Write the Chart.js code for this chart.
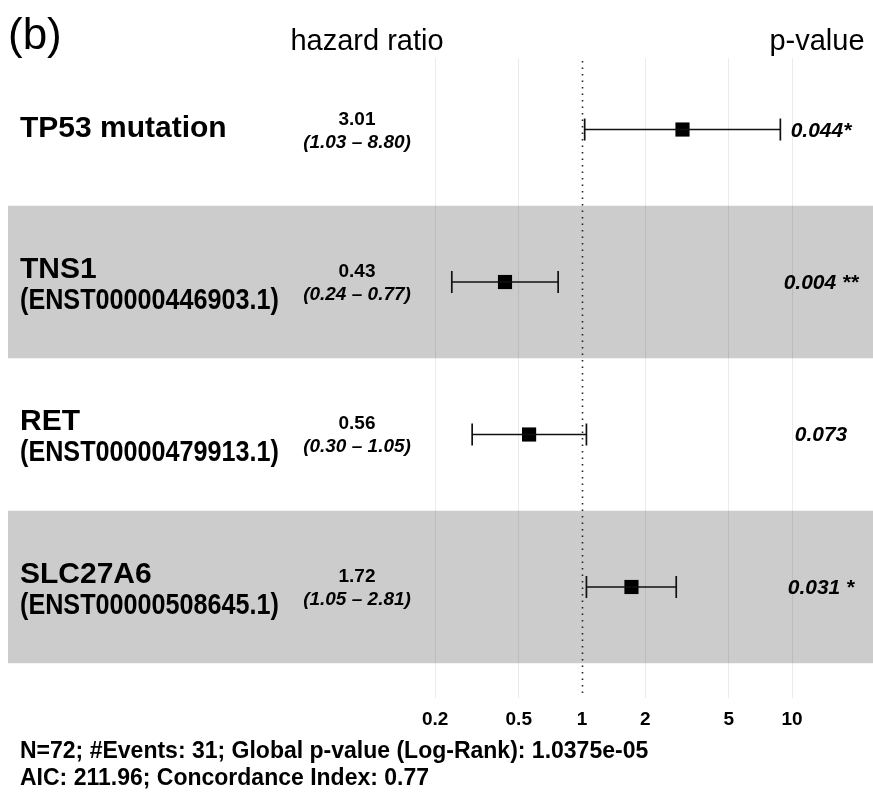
<!DOCTYPE html>
<html>
<head>
<meta charset="utf-8">
<script src="https://cdn.jsdelivr.net/npm/chart.js@4"></script>
<style>
  html, body { margin: 0; padding: 0; background: #fff; }
  #wrap { width: 873px; height: 795px; }
</style>
</head>
<body>
<div id="wrap"><canvas id="forestChart" width="873" height="795"></canvas></div>
<script>
// Cox model results, one entry per row (top to bottom)
const variables = ["TP53 mutation", "TNS1", "RET", "SLC27A6"];
const transcripts = ["", "(ENST00000446903.1)", "(ENST00000479913.1)", "(ENST00000508645.1)"];
const hazardRatios = [3.01, 0.43, 0.56, 1.72];
const ciLower = [1.03, 0.24, 0.30, 1.05];
const ciUpper = [8.80, 0.77, 1.05, 2.81];
const pValues = ["0.044*", "0.004 **", "0.073", "0.031 *"];
const tickValues = [0.2, 0.5, 1, 2, 5, 10];
const footerLines = [
  "N=72; #Events: 31; Global p-value (Log-Rank): 1.0375e-05",
  "AIC: 211.96; Concordance Index: 0.77",
];

const FONT = '"Liberation Sans", Arial, Helvetica, sans-serif';
const canvas = document.getElementById("forestChart");

// error bars: one line dataset per row, caps drawn as rotated "line" points
const errorBarSets = variables.map((name, i) => ({
  type: "line",
  label: name + " CI",
  data: [
    { x: ciLower[i], y: i + 1 },
    { x: ciUpper[i], y: i + 1 },
  ],
  showLine: true,
  borderColor: "#111",
  borderWidth: 1.4,
  pointStyle: "line",
  rotation: 90,
  pointRadius: 11,
  pointBorderWidth: 1.7,
  pointBorderColor: "#111",
  pointHoverRadius: 11,
}));

const squareSet = {
  type: "scatter",
  label: "HR",
  data: hazardRatios.map((v, i) => ({ x: v, y: i + 1 })),
  pointStyle: "rect",
  pointRadius: 10,
  pointHoverRadius: 10,
  backgroundColor: "#000",
  borderWidth: 0,
};

const forestDecor = {
  id: "forestDecor",
  beforeDraw(chart) {
    // shaded bands behind every second row
    const { ctx, chartArea, scales } = chart;
    ctx.save();
    ctx.fillStyle = "#cccccc";
    variables.forEach((_, i) => {
      if (i % 2 === 1) {
        const top = scales.y.getPixelForValue(i + 0.5);
        const bottom = scales.y.getPixelForValue(i + 1.5);
        ctx.fillRect(chartArea.left, top, chart.width - chartArea.left, bottom - top);
      }
    });
    ctx.restore();
  },
  beforeDatasetsDraw(chart) {
    // dotted reference line at HR = 1
    const { ctx, chartArea, scales } = chart;
    const px = Math.round(scales.x.getPixelForValue(1)) + 0.5;
    ctx.save();
    ctx.strokeStyle = "#222";
    ctx.lineWidth = 1.6;
    ctx.setLineDash([1.6, 4.9]);
    ctx.beginPath();
    ctx.moveTo(px, chartArea.top + 3);
    ctx.lineTo(px, chartArea.bottom);
    ctx.stroke();
    ctx.restore();
  },
  afterDraw(chart) {
    const { ctx, scales } = chart;
    ctx.save();
    ctx.fillStyle = "#000";
    ctx.textBaseline = "alphabetic";

    // headers
    ctx.textAlign = "left";
    ctx.font = "44px " + FONT;
    ctx.fillText("(b)", 8, 49);
    ctx.textAlign = "center";
    ctx.font = "29px " + FONT;
    ctx.fillText("hazard ratio", 367, 50);
    ctx.fillText("p-value", 817, 50);

    variables.forEach((name, i) => {
      const cy = scales.y.getPixelForValue(i + 1);

      // variable names
      ctx.textAlign = "left";
      ctx.font = "bold 30px " + FONT;
      if (transcripts[i]) {
        ctx.fillText(name, 20, cy - 4);
        ctx.font = "bold 29px " + FONT;
        ctx.fillText(transcripts[i], 20, cy + 27, 259);
      } else {
        ctx.fillText(name, 20, cy + 7);
      }

      // hazard ratio and CI
      ctx.textAlign = "center";
      ctx.font = "bold 19px " + FONT;
      ctx.fillText(hazardRatios[i].toFixed(2), 357, cy - 5);
      ctx.font = "italic bold 19px " + FONT;
      ctx.fillText("(" + ciLower[i].toFixed(2) + " \u2013 " + ciUpper[i].toFixed(2) + ")", 357, cy + 18);

      // p-values
      ctx.font = "italic bold 21px " + FONT;
      ctx.fillText(pValues[i], 821, cy + 7);
    });

    // model summary
    ctx.textAlign = "left";
    ctx.font = "bold 23px " + FONT;
    ctx.fillText(footerLines[0], 20, 758);
    ctx.fillText(footerLines[1], 20, 785);
    ctx.restore();
  },
};

const forestChart = new Chart(canvas, {
  type: "scatter",
  data: { datasets: [...errorBarSets, squareSet] },
  options: {
    responsive: false,
    animation: false,
    devicePixelRatio: 1,
    layout: { autoPadding: false, padding: { left: 8, right: 0, top: 58, bottom: 0 } },
    plugins: {
      legend: { display: false },
      tooltip: { enabled: false },
    },
    scales: {
      x: {
        type: "logarithmic",
        position: "bottom",
        min: 0.00185,
        max: 24.3,
        afterBuildTicks: (scale) => {
          scale.ticks = tickValues.map((v) => ({ value: v }));
        },
        afterFit: (scale) => {
          scale.height = 97;
        },
        ticks: {
          autoSkip: false,
          maxRotation: 0,
          padding: 10,
          color: "#000",
          font: { family: FONT, size: 19, weight: "bold" },
          callback: (value) => String(value),
        },
        grid: {
          drawTicks: false,
          lineWidth: 1,
          color: (c) => (c.tick && c.tick.value === 1 ? "rgba(0,0,0,0)" : "rgba(0,0,0,0.08)"),
        },
        border: { display: false },
      },
      y: {
        type: "linear",
        display: false,
        reverse: true,
        min: 0.531,
        max: 4.728,
      },
    },
  },
  plugins: [forestDecor],
});
</script>
</body>
</html>
